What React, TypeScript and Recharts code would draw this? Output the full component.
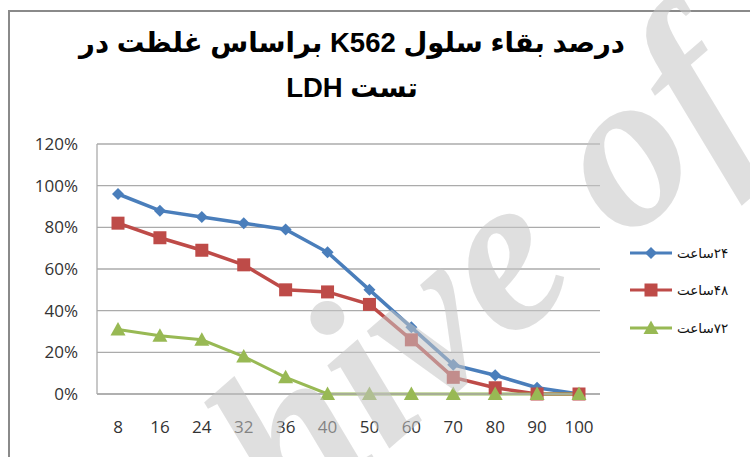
import { LineChart, Line, XAxis, YAxis, CartesianGrid, Legend } from 'recharts';

const doses = ['8', '16', '24', '32', '36', '40', '50', '60', '70', '80', '90', '100'];
const h24 = [96, 88, 85, 82, 79, 68, 50, 32, 14, 9, 3, 0];
const h48 = [82, 75, 69, 62, 50, 49, 43, 26, 8, 3, 0, 0];
const h72 = [31, 28, 26, 18, 8, 0, 0, 0, 0, 0, 0, 0];
const yTicks = [0, 20, 40, 60, 80, 100, 120];
const seriesNames = ['۲۴ساعت', '۴۸ساعت', '۷۲ساعت'];
const titleLines = ['درصد بقاء سلول K562 براساس غلظت در', 'تست LDH'];
const watermark = 'Archive of SID';

const data = doses.map((d, i) => ({ dose: d, h24: h24[i], h48: h48[i], h72: h72[i] }));

const colors = ['#4A7EBB', '#BE4B48', '#98B954'];

function Marker({ kind, cx, cy, color }: { kind: number; cx: number; cy: number; color: string }) {
  if (kind === 0) {
    const r = 6;
    return <path d={`M${cx},${cy - r}L${cx + r},${cy}L${cx},${cy + r}L${cx - r},${cy}Z`} fill={color} />;
  }
  if (kind === 1) {
    const r = 6.5;
    return <rect x={cx - r} y={cy - r} width={r * 2} height={r * 2} fill={color} />;
  }
  const r = 7.5;
  return <path d={`M${cx},${cy - r}L${cx + r},${cy + r * 0.8}L${cx - r},${cy + r * 0.8}Z`} fill={color} />;
}

const makeDot = (kind: number) => (props: any) => (
  <Marker key={`${kind}-${props.index}`} kind={kind} cx={props.cx} cy={props.cy} color={colors[kind]} />
);

function LegendBox() {
  return (
    <div style={{ position: 'absolute', left: 628, top: 234, width: 115 }}>
      {seriesNames.map((name, i) => (
        <div key={name} style={{ display: 'flex', alignItems: 'center', height: 37.5 }}>
          <svg width={46} height={20}>
            <line x1={2} y1={10} x2={44} y2={10} stroke={colors[i]} strokeWidth={3} />
            <Marker kind={i} cx={23} cy={10} color={colors[i]} />
          </svg>
          <span dir="rtl" style={{ fontFamily: '"DejaVu Sans", sans-serif', fontSize: 13.5, color: '#111', marginLeft: 3 }}>
            {name}
          </span>
        </div>
      ))}
    </div>
  );
}

export default function App() {
  return (
    <div style={{ position: 'absolute', left: 0, top: 0, width: 750, height: 457, overflow: 'hidden', background: '#fff' }}>
      <div style={{ position: 'absolute', left: 8, top: 10, width: 800, height: 500, border: '2px solid #8a8a8a', boxSizing: 'border-box' }} />
      {titleLines.map((t, i) => (
        <div
          key={t}
          dir="rtl"
          style={{
            position: 'absolute',
            left: 52,
            width: 600,
            top: 27 + i * 45,
            textAlign: 'center',
            fontFamily: '"Liberation Sans", "DejaVu Sans", sans-serif',
            fontWeight: 'bold',
            fontSize: 27.5,
            lineHeight: '32px',
            color: '#000',
          }}
        >
          {t}
        </div>
      ))}
      <div style={{ position: 'absolute', left: 0, top: 0 }}>
        <LineChart width={750} height={457} data={data} margin={{ top: 144, right: 150, bottom: 23, left: 0 }}>
          <CartesianGrid vertical={false} stroke="#ababab" strokeWidth={1.3} />
          <XAxis
            dataKey="dose"
            padding={{ left: 21, right: 21 }}
            axisLine={{ stroke: '#ababab', strokeWidth: 1.3 }}
            tickLine={false}
            tickSize={0}
            tickMargin={27}
            height={40}
            tick={{ fill: '#333', fontSize: 17, fontFamily: '"Open Sans", sans-serif' }}
          />
          <YAxis
            domain={[0, 120]}
            ticks={yTicks}
            width={97}
            axisLine={{ stroke: '#ababab', strokeWidth: 1.3 }}
            tickLine={false}
            tickSize={0}
            tickMargin={19}
            tickFormatter={(v) => `${v}%`}
            tick={{ fill: '#333', fontSize: 17, fontFamily: '"Open Sans", sans-serif' }}
          />
          <Legend content={() => <LegendBox />} wrapperStyle={{ left: 0, top: 0, width: 0, height: 0 }} />
          <Line dataKey="h24" stroke={colors[0]} strokeWidth={3.5} dot={makeDot(0)} activeDot={false} isAnimationActive={false} />
          <Line dataKey="h48" stroke={colors[1]} strokeWidth={3.5} dot={makeDot(1)} activeDot={false} isAnimationActive={false} />
          <Line dataKey="h72" stroke={colors[2]} strokeWidth={3} dot={makeDot(2)} activeDot={false} isAnimationActive={false} />
        </LineChart>
      </div>
      {/* watermark over the chart */}
      <svg width={750} height={457} style={{ position: 'absolute', left: 0, top: 0, pointerEvents: 'none' }}>
        <g transform="translate(245,440) rotate(-41)">
          <text
            x={-365}
            y={101}
            fontFamily='"Liberation Serif", serif'
            fontStyle="italic"
            fontWeight="bold"
            fontSize={225}
            fill="#c4c4c4"
            fillOpacity={0.55}
          >
            {watermark}
          </text>
        </g>
      </svg>
    </div>
  );
}
